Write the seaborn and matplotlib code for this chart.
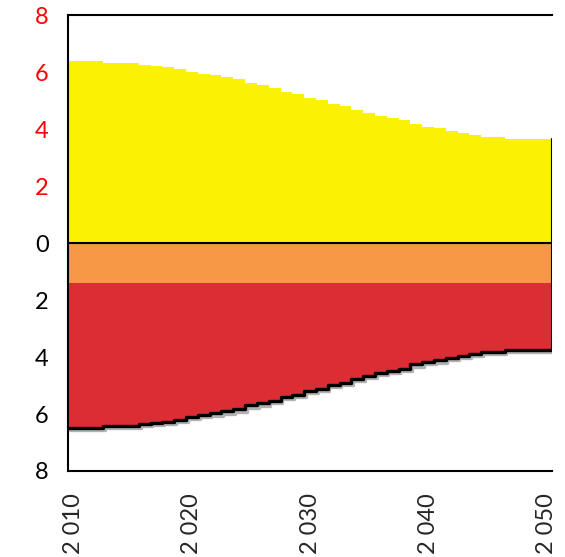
import numpy as np
import pandas as pd
import seaborn as sns
import matplotlib.pyplot as plt
import matplotlib.patheffects as pe

years = list(range(2010, 2051))

# upper (yellow) area, read per year
supply = [6.39, 6.39, 6.39, 6.33, 6.33, 6.33, 6.25, 6.21, 6.17, 6.10,
          6.01, 5.94, 5.88, 5.81, 5.74, 5.60, 5.53, 5.45, 5.31, 5.23,
          5.10, 5.02, 4.87, 4.80, 4.67, 4.57, 4.45, 4.38, 4.31, 4.16,
          4.08, 4.02, 3.94, 3.87, 3.78, 3.72, 3.72, 3.66, 3.66, 3.66,
          3.66]

# lower stack: constant orange band, red down to the total line
orange_band = [1.4] * len(years)
lower_total = [6.49, 6.49, 6.49, 6.43, 6.43, 6.43, 6.35, 6.31, 6.27, 6.20,
               6.11, 6.04, 5.98, 5.91, 5.84, 5.70, 5.63, 5.55, 5.41, 5.33,
               5.20, 5.12, 4.97, 4.90, 4.77, 4.67, 4.55, 4.48, 4.41, 4.26,
               4.18, 4.12, 4.04, 3.97, 3.88, 3.82, 3.82, 3.76, 3.76, 3.76,
               3.76]

yticks = [-8, -6, -4, -2, 0, 2, 4, 6, 8]
xticks = [2010, 2020, 2030, 2040, 2050]

sns.set_style("white")
plt.rcParams['font.family'] = ['Lato', 'DejaVu Sans']

df = pd.DataFrame({"year": years, "supply": supply,
                   "band": orange_band, "total": lower_total})
# category-style edges so each year fills its own slot
edges = np.append(df["year"].values - 0.5, df["year"].values[-1] + 0.5)
def ext(col):
    return np.append(df[col].values, df[col].values[-1])

fig = plt.figure(figsize=(5.65, 5.57), dpi=100)
ax = fig.add_axes([0.1204, 0.1544, 0.977 - 0.1204, 0.973 - 0.1544])

ax.fill_between(edges, 0, ext("supply"), step="post", color="#FBF102", lw=0)
ax.fill_between(edges, 0, -ext("band"), step="post", color="#F79847", lw=0)
ax.fill_between(edges, -ext("band"), -ext("total"), step="post", color="#DD2D34", lw=0)

line = pd.DataFrame({"x": edges, "y": -ext("total")})
sns.lineplot(data=line, x="x", y="y", ax=ax, color="black", lw=2.4,
             drawstyle="steps-post", estimator=None, sort=False,
             path_effects=[pe.SimpleLineShadow(offset=(1.2, -1.5), shadow_color="gray", alpha=0.6),
                           pe.Normal()])
ax.plot([edges[-1], edges[-1]], [-df["total"].values[-1], df["supply"].values[-1]],
        color="black", lw=1.5)
ax.axhline(0, color="black", lw=1.5)

ax.set_xlim(edges[0], edges[-1])
ax.set_ylim(-8, 8)
ax.set_yticks(yticks)
ax.set_yticklabels([str(abs(v)) for v in yticks])
for lab, v in zip(ax.get_yticklabels(), yticks):
    lab.set_color("red" if v > 0 else "black")
ax.set_xticks(xticks)
ax.set_xticklabels([f"{y // 1000} {y % 1000:03d}" for y in xticks], rotation=90, va="top")

ax.tick_params(axis="y", direction="out", length=7, width=1.5, labelsize=17, pad=7)
ax.tick_params(axis="x", length=0, labelsize=17, pad=16)
ax.set_xlabel("")
ax.set_ylabel("")

for s in ["left", "top", "bottom"]:
    ax.spines[s].set_linewidth(1.5)
    ax.spines[s].set_color("black")
ax.spines["right"].set_visible(False)

fig.savefig("out.png", dpi=100)
